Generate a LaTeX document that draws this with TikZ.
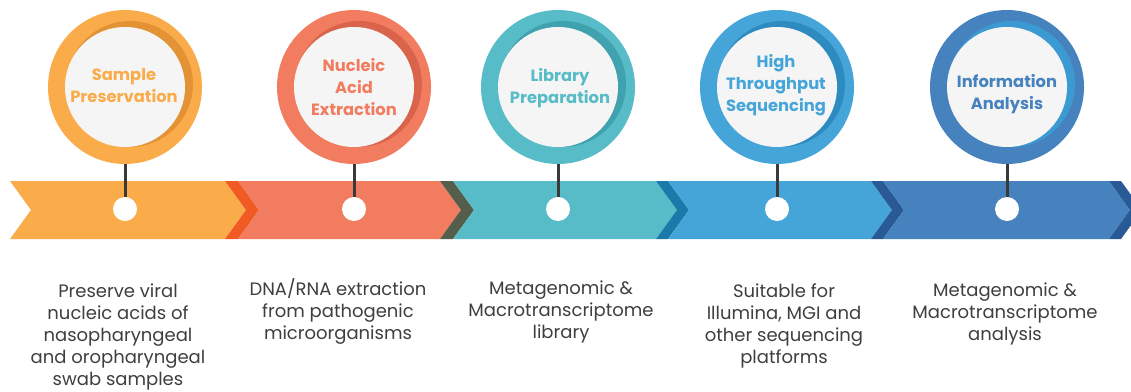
\documentclass[tikz,border=0pt]{standalone}
\usepackage{fontspec}
\setmainfont{Poppins}
\definecolor{cOr}{HTML}{FBAC4A}
\definecolor{cOrD}{HTML}{F15A22}
\definecolor{cOrS}{HTML}{E39335}
\definecolor{cSa}{HTML}{F17C60}
\definecolor{cSaD}{HTML}{555E4A}
\definecolor{cSaS}{HTML}{D9644B}
\definecolor{cTe}{HTML}{58BCC8}
\definecolor{cTeD}{HTML}{1A7BAA}
\definecolor{cTeS}{HTML}{3FA2AE}
\definecolor{cBl}{HTML}{45A5D8}
\definecolor{cBlD}{HTML}{2A5A96}
\definecolor{cBlS}{HTML}{2D8BC0}
\definecolor{cSt}{HTML}{4682BD}
\definecolor{cStD}{HTML}{2A5A96}
\definecolor{cStS}{HTML}{3C9AD2}
\definecolor{cIn}{HTML}{F5F5F5}
\definecolor{cLine}{HTML}{3A3A3A}
\definecolor{cTxt}{HTML}{3F3F3F}
\tikzset{
  ringnode/.style={circle, minimum size=154pt, inner sep=0pt},
  dotnode/.style={circle, fill=white, minimum size=24pt, inner sep=0pt},
  headtxt/.style={align=center, font=\fontsize{16.3}{22}\selectfont\bfseries, inner sep=0pt},
  desctxt/.style={align=center, font=\fontsize{18}{22}\selectfont, text=cTxt, inner sep=0pt, anchor=north},
  connline/.style={draw=cLine, line width=3pt}
}
\newcommand{\segm}[3]{%
  \fill[#3] (#1,181) -- (#2,181) -- ({#2+21},210) -- (#2,239) -- (#1,239) -- ({#1+21},210) -- cycle;}
\newcommand{\stepring}[4]{%
  % #1 name, #2 x, #3 main colour, #4 shade colour
  \node[ringnode, fill=#3] (#1) at (#2,87) {};
  \fill[#4] ({#2+5},84) circle[radius=63pt];
  \fill[cIn] (#2,87) circle[radius=60pt];
  \node[dotnode] (#1dot) at (#2,209) {};
  \draw[connline] (#1.south) -- (#1dot.north);
}
\begin{document}
\begin{tikzpicture}[x=1pt,y=-1pt]
\clip (0,0) rectangle (1131,391);
\fill[white] (0,0) rectangle (1131,391);
% banner
\segm{10}{225}{cOr}
\segm{225}{238}{cOrD}
\segm{238}{440}{cSa}
\segm{440}{453}{cSaD}
\segm{453}{656}{cTe}
\segm{656}{668}{cTeD}
\segm{668}{871}{cBl}
\segm{871}{883}{cBlD}
\segm{883}{1109}{cSt}
\segm{1109}{1121}{cStD}
% rings
\stepring{s1}{125}{cOr}{cOrS}
\stepring{s2}{354}{cSa}{cSaS}
\stepring{s3}{558}{cTe}{cTeS}
\stepring{s4}{777}{cBl}{cBlS}
\stepring{s5}{1007}{cSt}{cStS}
% titles
\node[headtxt, text=cOr] (t1) at (124,86) {Sample\\Preservation};
\node[headtxt, text=cSa] (t2) at (354,87.5) {Nucleic\\Acid\\Extraction};
\node[headtxt, text=cTe] (t3) at (560,88) {Library\\Preparation};
\node[headtxt, text=cBl] (t4) at (776,85.5) {High\\Throughput\\Sequencing};
\node[headtxt, text=cSt] (t5) at (1007,94) {Information\\Analysis};
% descriptions
\node[desctxt] (d1) at (118,284) {Preserve viral\\nucleic acids of\\nasopharyngeal\\and oropharyngeal\\swab samples};
\node[desctxt] (d2) at (338,278) {DNA/RNA extraction\\from pathogenic\\microorganisms};
\node[desctxt] (d3) at (561,281) {Metagenomic \&\\Macrotranscriptome\\library};
\node[desctxt] (d4) at (784,284) {Suitable for\\Illumina, MGI and\\other sequencing\\platforms};
\node[desctxt] (d5) at (1005,283) {Metagenomic \&\\Macrotranscriptome\\analysis};
\end{tikzpicture}
\end{document}
